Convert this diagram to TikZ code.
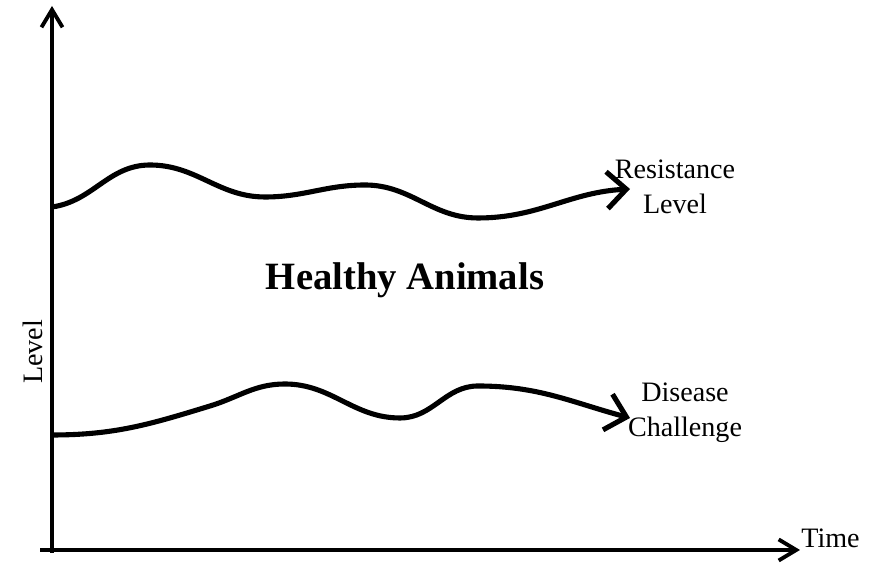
\documentclass[tikz,border=0pt]{standalone}
\usepackage{fontspec}
\setmainfont{Liberation Serif}
\usetikzlibrary{arrows.meta}

\begin{document}
\begin{tikzpicture}[x=0.02cm, y=0.02cm,
  axisline/.style={line width=2.2pt, -{Straight Barb[length=10pt, width=12pt]}},
  waveline/.style={line width=2.9pt, -{Straight Barb[length=11pt, width=21pt]}},
  lbl/.style={font=\fontsize{16}{20}\selectfont, align=center}]%
\useasboundingbox (0,0) rectangle (873,563);%
% axes
\coordinate (ybot) at (52,10);%
\coordinate (ytop) at (52,557);%
\coordinate (xbeg) at (40,13);%
\coordinate (xend) at (800,13);%
\draw[axisline] (ybot) -- (ytop);%
\draw[axisline] (xbeg) -- (xend);%
\node[lbl, anchor=base west, inner sep=0pt] (time) at (801,15) {Time};%
\node[lbl, rotate=90] (level) at (33,211) {Level};%
% resistance
\coordinate (r0) at (52,356);%
\coordinate (r1) at (150,398);%
\coordinate (r2) at (265,366);%
\coordinate (r3) at (365,378);%
\coordinate (r4) at (478,345);%
\coordinate (r5) at (630,374);%
\draw[waveline] (r0) to[out=8,in=180] (r1) to[out=0,in=180] (r2) to[out=0,in=180] (r3) to[out=0,in=180] (r4) to[out=0,in=183] (r5);%
\node[lbl] (resist) at (675,376) {Resistance\\Level};%
% disease
\coordinate (d0) at (52,128);%
\coordinate (d1) at (210,157);%
\coordinate (d2) at (285,179);%
\coordinate (d3) at (400,145);%
\coordinate (d4) at (478,177);%
\coordinate (d5) at (630,145);%
\draw[waveline] (d0) to[out=0,in=197] (d1) to[out=17,in=180] (d2) to[out=0,in=180] (d3) to[out=0,in=180] (d4) to[out=0,in=165] (d5);%
\node[lbl] (disease) at (685,150) {Disease\\Challenge};%
\node[font=\fontsize{22}{26}\selectfont\bfseries] (healthy) at (405,283) {Healthy Animals};%
\end{tikzpicture}
\end{document}
